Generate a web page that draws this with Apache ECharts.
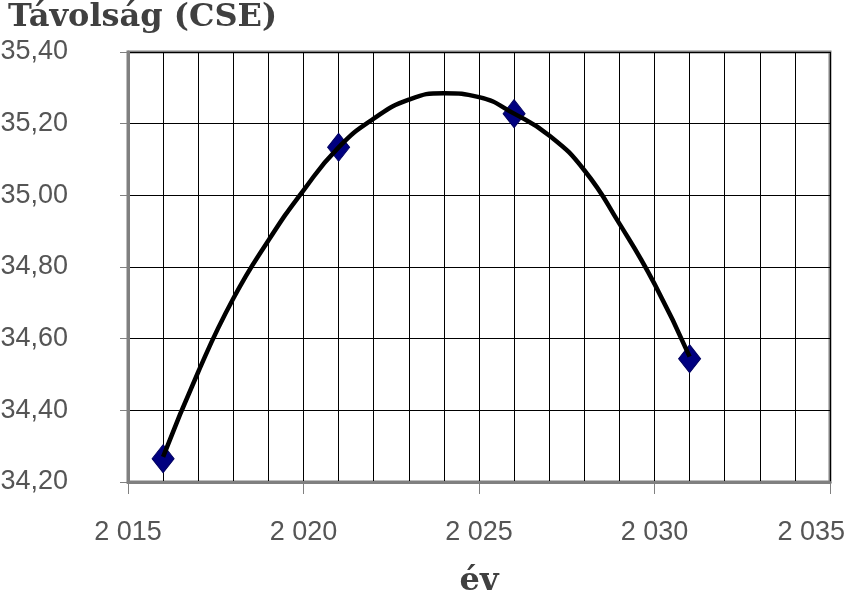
<!DOCTYPE html>
<html>
<head>
<meta charset="utf-8">
<script src="https://cdn.jsdelivr.net/npm/echarts@6/dist/echarts.min.js"></script>
<style>
	html, body { margin:0; padding:0; background:#fff; }
	#chart { width:847px; height:593px; }
</style>
</head>
<body>
<div id="chart"></div>
<script>
// measured points (diamonds)
var pointYears = [2016, 2021, 2026, 2031];
var pointValues = [34.265, 35.134, 35.228, 34.544];

// trend curve
var curveYears = [2016, 2017, 2018, 2019, 2020, 2021, 2022, 2023, 2024, 2025, 2026, 2027, 2028, 2029, 2030, 2031];
var curveValues = [34.27, 34.507, 34.712, 34.874, 35.014, 35.134, 35.214, 35.267, 35.285, 35.274, 35.228, 35.167, 35.07, 34.921, 34.753, 34.55];

var title = 'Távolság (CSE)';
var xName = 'év';

var chart = echarts.init(document.getElementById('chart'));

var zip = function(xs, ys){
	var out = [];
	for(var i=0; i<xs.length; i++){
		out.push([xs[i], ys[i]]);
	}
	return out;
}

var labelFont = {
	fontFamily:'Liberation Sans, Arial, sans-serif',
	fontSize:27,
	color:'#555555'
}

var option = {
	animation:false,
	title:{
		text:title,
		left:3,
		top:-3,
		textStyle:{
			fontFamily:'DejaVu Serif',
			fontWeight:'bold',
			fontSize:32,
			color:'#404040'
		}
	},
	grid:{
		left:128,
		right:17,
		top:52,
		bottom:111,
		outerBoundsMode:'none',
		containLabel:false,
		show:true,
		borderColor:'#808080',
		borderWidth:3
	},
	xAxis:{
		type:'value',
		min:2015,
		max:2035,
		interval:5,
		name:xName,
		nameLocation:'middle',
		nameGap:84,
		nameTextStyle:{
			fontFamily:'DejaVu Serif',
			fontWeight:'bold',
			fontSize:32,
			color:'#404040'
		},
		axisLine:{ lineStyle:{ color:'#808080', width:3 } },
		axisTick:{ show:true, length:12, lineStyle:{ color:'#808080', width:1 } },
		axisLabel:Object.assign({
			margin:37,
			alignMaxLabel:'right',
			formatter:function(v){
				var s = String(v);
				s = s.slice(0, 1) + ' ' + s.slice(1);
				return v === 2035 ? '{last|' + s + '}' : s;
			},
			rich:{
				last:Object.assign({ padding:[0, -15, 0, 0] }, labelFont)
			}
		}, labelFont),
		splitLine:{ show:true, lineStyle:{ color:'#000', width:1 } },
		minorTick:{ show:false, splitNumber:5 },
		minorSplitLine:{ show:true, lineStyle:{ color:'#000', width:1 } }
	},
	yAxis:{
		type:'value',
		min:34.2,
		max:35.4,
		interval:0.2,
		axisLine:{ show:true, lineStyle:{ color:'#808080', width:3 } },
		axisTick:{ show:true, length:8, lineStyle:{ color:'#808080', width:1 } },
		axisLabel:Object.assign({
			margin:60,
			formatter:function(v){
				return v.toFixed(2).replace('.', ',');
			}
		}, labelFont),
		splitLine:{ show:true, lineStyle:{ color:'#000', width:1 } }
	},
	series:[{
		type:'scatter',
		data:zip(pointYears, pointValues),
		symbol:'diamond',
		symbolSize:[22, 28],
		itemStyle:{ color:'#000080', borderColor:'#000060', borderWidth:1, opacity:1 },
		z:2
	},{
		type:'line',
		data:zip(curveYears, curveValues),
		smooth:true,
		showSymbol:false,
		lineStyle:{ color:'#000', width:4.5 },
		z:3
	}]
};

chart.setOption(option);
</script>
</body>
</html>
